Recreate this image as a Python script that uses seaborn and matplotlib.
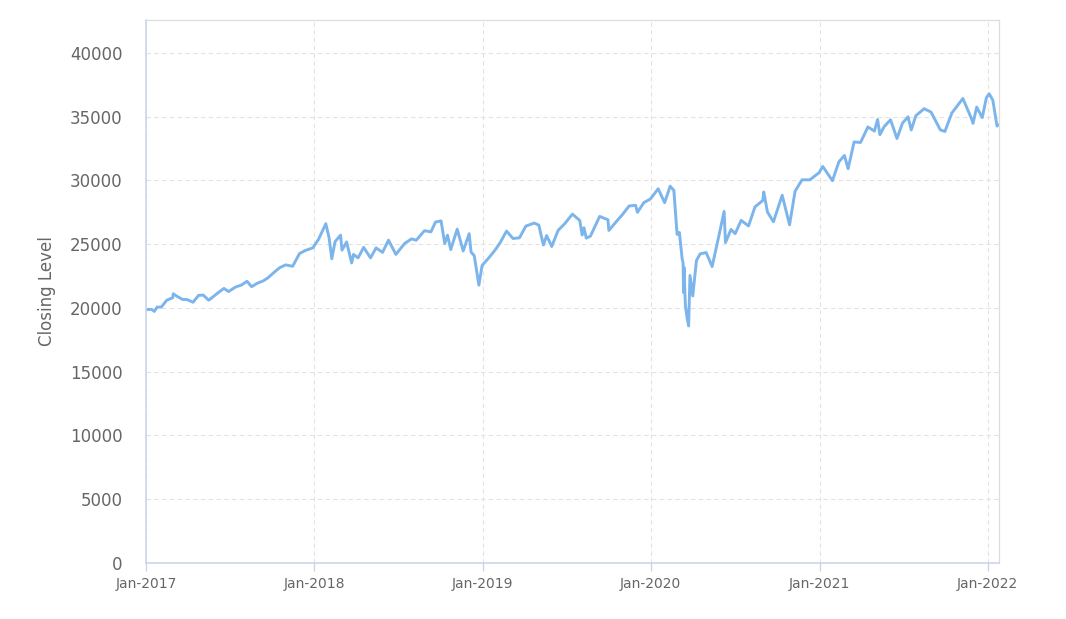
import pandas as pd
import numpy as np
import matplotlib
matplotlib.use("Agg")
import matplotlib.pyplot as plt
import matplotlib.dates as mdates
import seaborn as sns

LINE = "#7cb5ec"
GRID = "#e3e3e3"
AXIS = "#ccd6eb"
TEXT = "#666666"

# Closing levels (approximate)
dates_2017 = ["2017-01-03", "2017-01-13", "2017-01-19", "2017-01-25", "2017-02-03", "2017-02-15",
              "2017-02-28", "2017-03-01", "2017-03-10", "2017-03-21", "2017-03-31", "2017-04-13",
              "2017-04-25", "2017-05-05", "2017-05-17", "2017-05-31", "2017-06-09", "2017-06-19",
              "2017-06-29", "2017-07-14", "2017-07-27", "2017-08-08", "2017-08-18", "2017-08-31",
              "2017-09-12", "2017-09-22", "2017-10-05", "2017-10-18", "2017-10-31", "2017-11-15",
              "2017-11-30", "2017-12-12", "2017-12-29"]
close_2017 = [19880, 19890, 19730, 20070, 20070, 20610,
              20810, 21115, 20900, 20670, 20660, 20450,
              20990, 21010, 20610, 21010, 21270, 21530,
              21290, 21640, 21800, 22090, 21670, 21950,
              22120, 22350, 22770, 23160, 23380, 23270,
              24270, 24500, 24720]

dates_2018 = ["2018-01-10", "2018-01-26", "2018-02-02", "2018-02-08", "2018-02-15", "2018-02-27",
              "2018-03-02", "2018-03-08", "2018-03-12", "2018-03-23", "2018-03-27", "2018-04-06",
              "2018-04-18", "2018-05-03", "2018-05-15", "2018-05-29", "2018-06-11", "2018-06-27",
              "2018-07-16", "2018-07-31", "2018-08-10", "2018-08-28", "2018-09-11", "2018-09-21",
              "2018-10-03", "2018-10-11", "2018-10-17", "2018-10-24", "2018-11-07", "2018-11-20",
              "2018-12-03", "2018-12-07", "2018-12-14", "2018-12-24", "2018-12-31"]
close_2018 = [25370, 26610, 25520, 23860, 25200, 25710,
              24540, 24900, 25180, 23530, 24200, 23930,
              24750, 23930, 24710, 24360, 25320, 24200,
              25060, 25420, 25310, 26060, 25970, 26740,
              26830, 25050, 25710, 24580, 26180, 24470,
              25830, 24390, 24100, 21790, 23330]

dates_2019 = ["2019-01-14", "2019-01-29", "2019-02-08", "2019-02-22", "2019-03-08", "2019-03-22",
              "2019-04-05", "2019-04-23", "2019-05-03", "2019-05-13", "2019-05-20", "2019-05-31",
              "2019-06-14", "2019-06-28", "2019-07-15", "2019-07-31", "2019-08-05", "2019-08-09",
              "2019-08-14", "2019-08-23", "2019-09-12", "2019-09-30", "2019-10-02", "2019-10-18",
              "2019-11-01", "2019-11-15", "2019-11-29", "2019-12-03", "2019-12-17", "2019-12-31"]
close_2019 = [23910, 24580, 25110, 26030, 25450, 25500,
              26420, 26660, 26500, 24940, 25680, 24820,
              26090, 26600, 27360, 26860, 25720, 26290,
              25480, 25630, 27180, 26920, 26080, 26770,
              27350, 28000, 28050, 27500, 28270, 28540]

dates_2020 = ["2020-01-17", "2020-01-31", "2020-02-12", "2020-02-20", "2020-02-27", "2020-03-03",
              "2020-03-09", "2020-03-11", "2020-03-12", "2020-03-13", "2020-03-16", "2020-03-20",
              "2020-03-23", "2020-03-26", "2020-04-01", "2020-04-09", "2020-04-17", "2020-04-30",
              "2020-05-13", "2020-05-27", "2020-06-08", "2020-06-11", "2020-06-23", "2020-07-02",
              "2020-07-15", "2020-07-31", "2020-08-14", "2020-08-31", "2020-09-02", "2020-09-10",
              "2020-09-23", "2020-10-12", "2020-10-28", "2020-11-09", "2020-11-24", "2020-12-11",
              "2020-12-31"]
close_2020 = [29350, 28260, 29550, 29220, 25770, 25920,
              23850, 23550, 21200, 23190, 20190, 19170,
              18590, 22550, 20940, 23720, 24240, 24350,
              23250, 25550, 27570, 25130, 26160, 25830,
              26870, 26430, 27930, 28430, 29100, 27530,
              26760, 28840, 26520, 29160, 30050, 30050,
              30610]

dates_2021 = ["2021-01-08", "2021-01-29", "2021-02-12", "2021-02-24", "2021-03-04", "2021-03-17",
              "2021-03-31", "2021-04-16", "2021-04-30", "2021-05-07", "2021-05-12", "2021-05-21",
              "2021-06-04", "2021-06-18", "2021-06-30", "2021-07-12", "2021-07-19", "2021-07-29",
              "2021-08-16", "2021-08-31", "2021-09-20", "2021-09-30", "2021-10-15", "2021-11-08",
              "2021-11-26", "2021-11-30", "2021-12-08", "2021-12-20", "2021-12-29",
              "2022-01-04", "2022-01-12", "2022-01-21", "2022-01-24"]
close_2021 = [31100, 29980, 31460, 31960, 30920, 33020,
              32980, 34200, 33870, 34780, 33590, 34210,
              34760, 33290, 34500, 34990, 33960, 35080,
              35630, 35360, 33970, 33840, 35290, 36430,
              34900, 34480, 35750, 34930, 36490,
              36800, 36290, 34270, 34360]

tick_dates = ["2017-01-01", "2018-01-01", "2019-01-01", "2020-01-01", "2021-01-01", "2022-01-01"]
y_ticks = [0, 5000, 10000, 15000, 20000, 25000, 30000, 35000, 40000]

df = pd.DataFrame({
    "Date": pd.to_datetime(dates_2017 + dates_2018 + dates_2019 + dates_2020 + dates_2021),
    "Close": close_2017 + close_2018 + close_2019 + close_2020 + close_2021,
})

sns.set_style("white")
plt.rcParams["font.family"] = ["DejaVu Sans"]

fig = plt.figure(figsize=(10.66, 6.19), dpi=100)
ax = fig.add_axes([0.137, 0.0905, 0.8, 0.8775])

sns.lineplot(data=df, x="Date", y="Close", ax=ax, color=LINE, linewidth=2.1)

ax.set_xlim(pd.Timestamp("2017-01-01"), pd.Timestamp("2022-01-25"))
ax.set_ylim(0, 42600)
ax.set_xticks(pd.to_datetime(tick_dates))
ax.xaxis.set_major_formatter(mdates.DateFormatter("%b-%Y"))
ax.set_yticks(y_ticks)
ax.set_yticklabels([str(v) for v in y_ticks])

ax.grid(True, color=GRID, linestyle=(0, (4, 3)), linewidth=0.8)
for side in ["left", "bottom"]:
    ax.spines[side].set_color(AXIS)
    ax.spines[side].set_linewidth(1.2)
for side in ["top", "right"]:
    ax.spines[side].set_color("#d8dde6")
    ax.spines[side].set_linewidth(0.9)

ax.tick_params(axis="x", colors=AXIS, labelcolor=TEXT, labelsize=10, length=6, width=1, pad=4, direction="out", bottom=True)
ax.tick_params(axis="y", labelcolor=TEXT, labelsize=12, length=0, pad=24)
ax.tick_params(axis="y", pad=17)
ax.set_xlabel("")
ax.set_ylabel("Closing Level", color=TEXT, fontsize=12, labelpad=10)

fig.savefig("out.png", dpi=100, facecolor="white")
